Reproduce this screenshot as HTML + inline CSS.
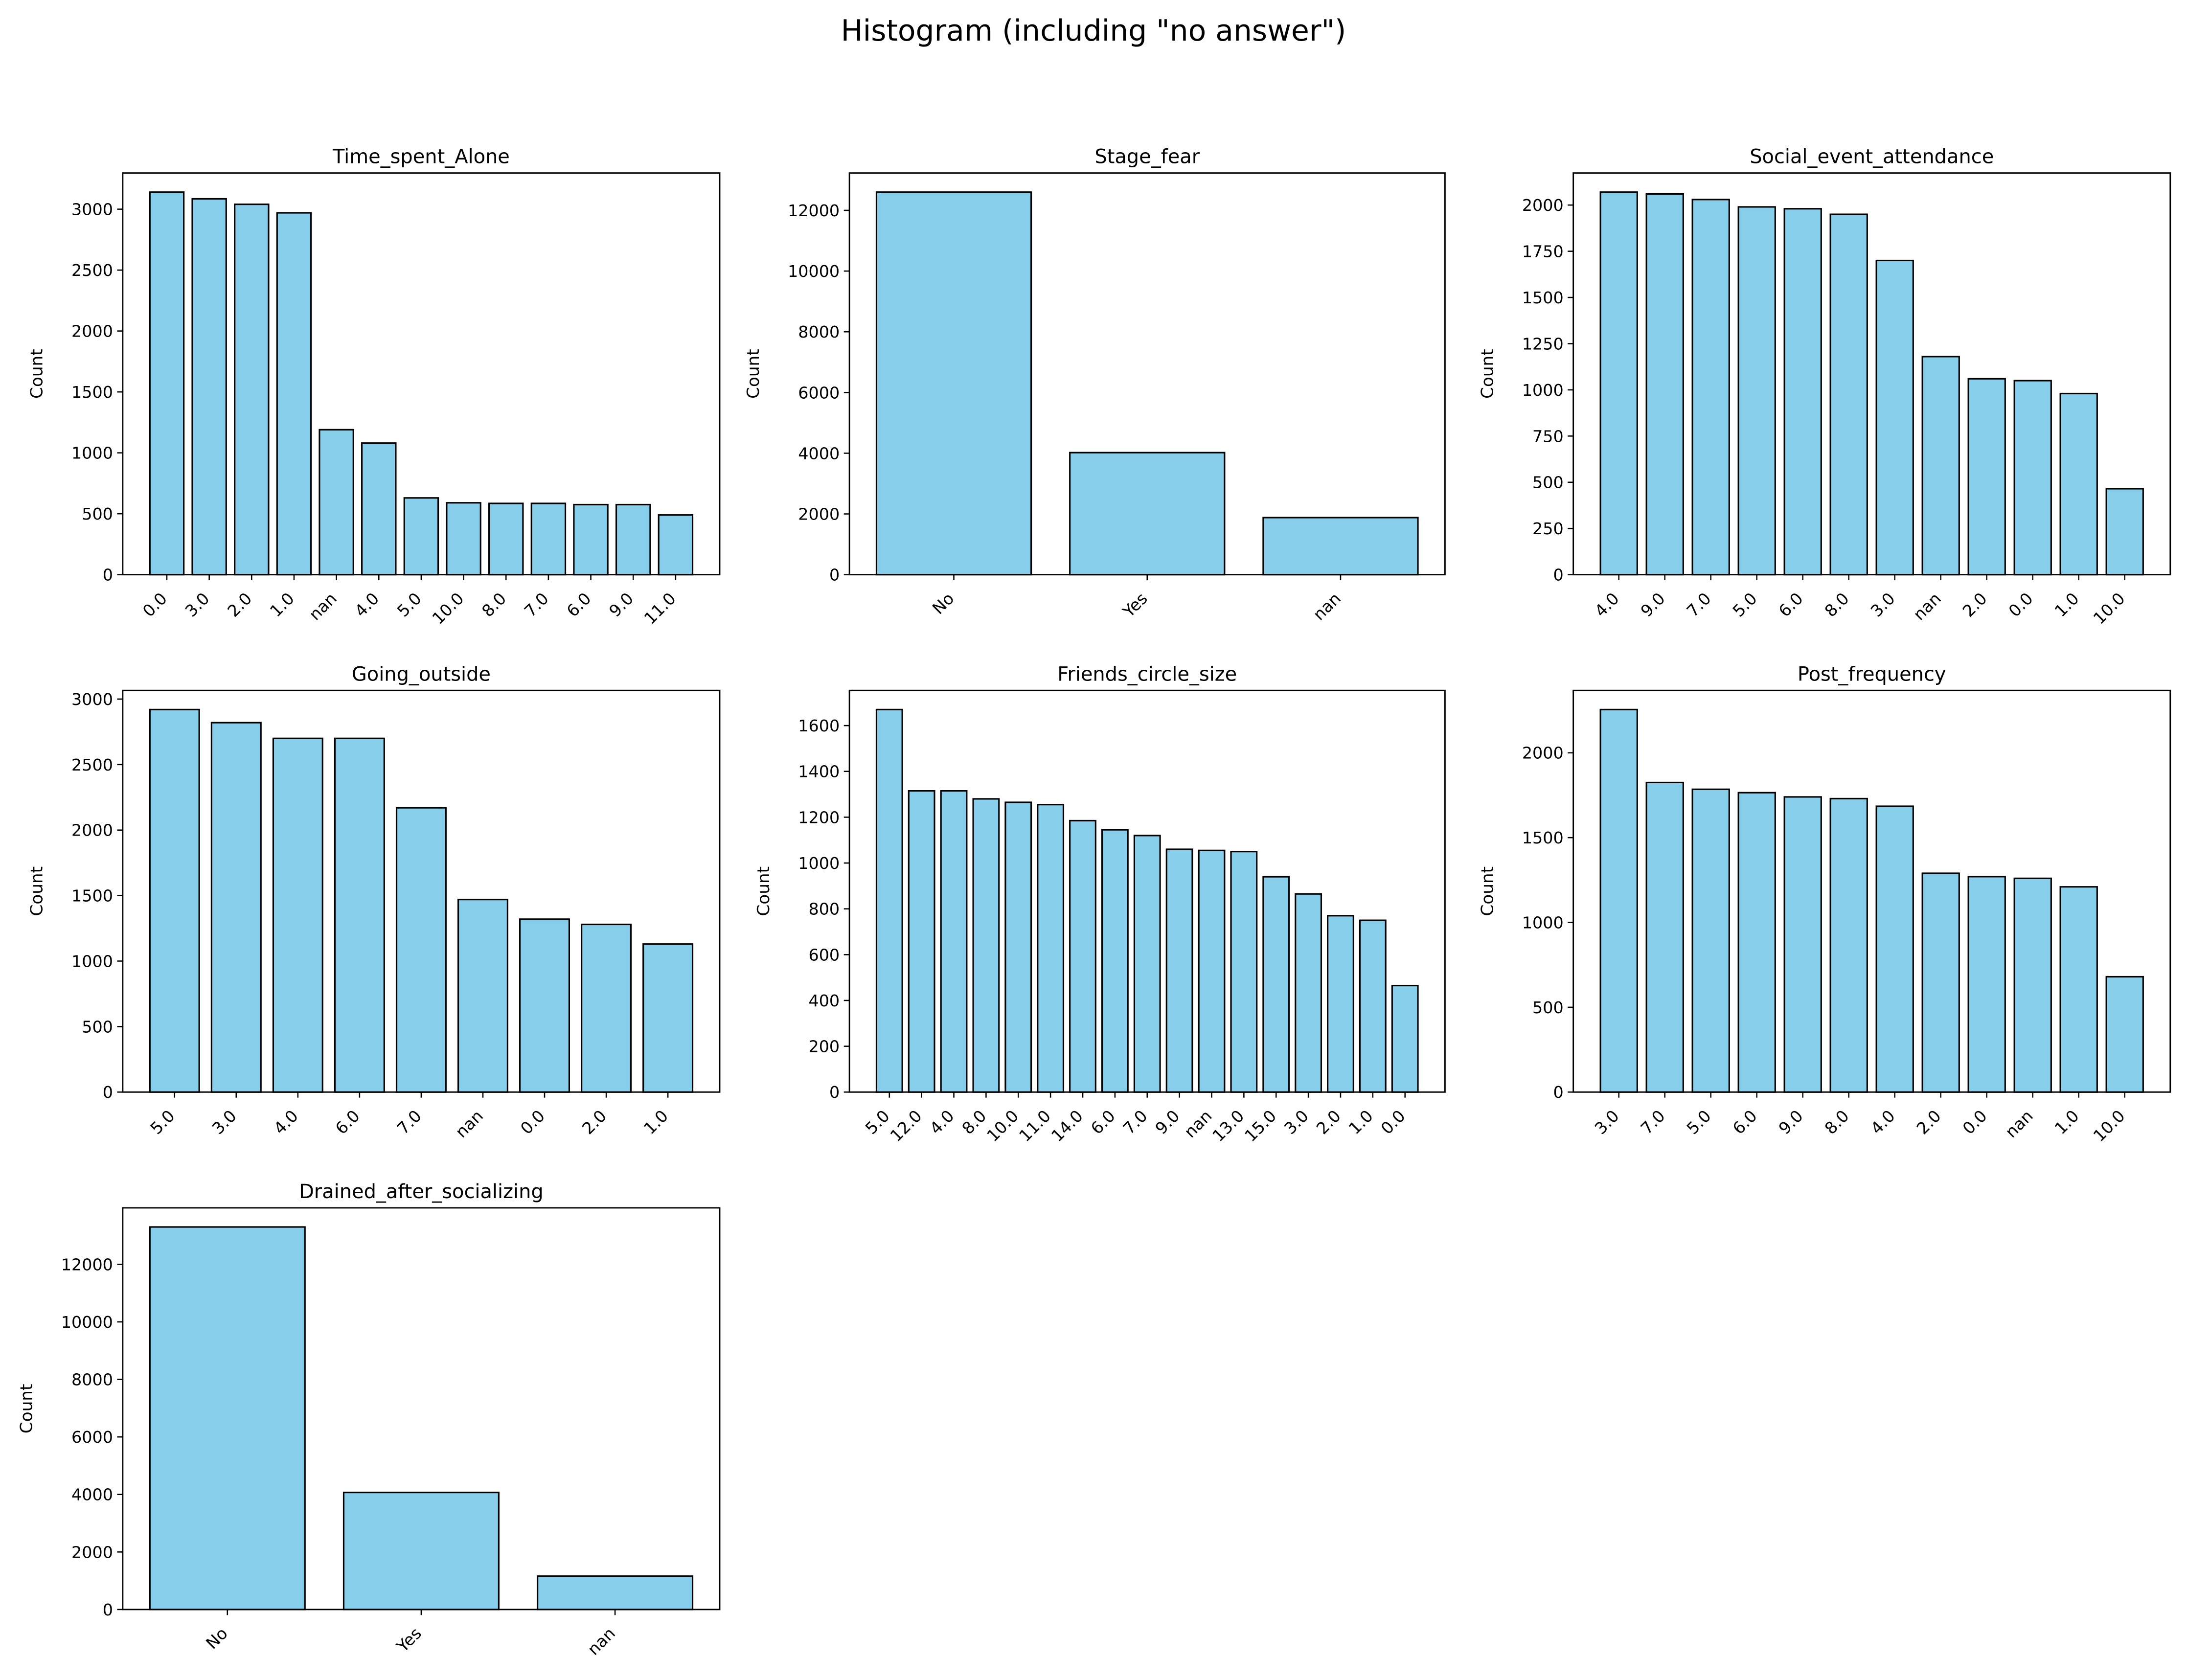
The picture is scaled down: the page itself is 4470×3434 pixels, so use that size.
<!DOCTYPE html>
<html><head><meta charset="utf-8"><style>
html,body{margin:0;padding:0;background:#fff;}
svg{display:block;font-family:"DejaVu Sans","Liberation Sans",sans-serif;}
</style></head><body>
<svg id="fig" width="4470" height="3434" viewBox="0 0 1568 1204.5" xmlns="http://www.w3.org/2000/svg">
<rect width="1568" height="1204.5" fill="#fff"/>
<text x="784" y="29" text-anchor="middle" font-size="21">Histogram (including "no answer")</text>
</svg>
<script>
const titles = ["Time_spent_Alone","Stage_fear","Social_event_attendance","Going_outside","Friends_circle_size","Post_frequency","Drained_after_socializing"];
const cats0 = ["0.0","3.0","2.0","1.0","nan","4.0","5.0","10.0","8.0","7.0","6.0","9.0","11.0"];
const vals0 = [3140,3085,3040,2970,1190,1080,630,590,585,585,575,575,490];
const cats1 = ["No","Yes","nan"];
const vals1 = [12600,4020,1880];
const cats2 = ["4.0","9.0","7.0","5.0","6.0","8.0","3.0","nan","2.0","0.0","1.0","10.0"];
const vals2 = [2070,2060,2030,1990,1980,1950,1700,1180,1060,1050,980,465];
const cats3 = ["5.0","3.0","4.0","6.0","7.0","nan","0.0","2.0","1.0"];
const vals3 = [2920,2820,2700,2700,2170,1470,1320,1280,1130];
const cats4 = ["5.0","12.0","4.0","8.0","10.0","11.0","14.0","6.0","7.0","9.0","nan","13.0","15.0","3.0","2.0","1.0","0.0"];
const vals4 = [1670,1315,1315,1280,1265,1255,1185,1145,1120,1060,1055,1050,940,865,770,750,465];
const cats5 = ["3.0","7.0","5.0","6.0","9.0","8.0","4.0","2.0","0.0","nan","1.0","10.0"];
const vals5 = [2255,1825,1785,1765,1740,1730,1685,1290,1270,1260,1210,680];
const cats6 = ["No","Yes","nan"];
const vals6 = [13300,4070,1160];
const ticks0 = [0,500,1000,1500,2000,2500,3000];
const ticks1 = [0,2000,4000,6000,8000,10000,12000];
const ticks2 = [0,250,500,750,1000,1250,1500,1750,2000];
const ticks3 = [0,500,1000,1500,2000,2500,3000];
const ticks4 = [0,200,400,600,800,1000,1200,1400,1600];
const ticks5 = [0,500,1000,1500,2000];
const ticks6 = [0,2000,4000,6000,8000,10000,12000];

const allCats=[cats0,cats1,cats2,cats3,cats4,cats5,cats6];
const allVals=[vals0,vals1,vals2,vals3,vals4,vals5,vals6];
const allTicks=[ticks0,ticks1,ticks2,ticks3,ticks4,ticks5,ticks6];
const colX=[[88,516],[609,1036],[1128,1556]];
const rowY=[[124,412],[495,783],[866,1154]];
const NS="http://www.w3.org/2000/svg";
const svg=document.getElementById('fig');
function mk(tag,attrs,parent){const e=document.createElementNS(NS,tag);for(const k in attrs)e.setAttribute(k,attrs[k]);parent.appendChild(e);return e;}
for(let p=0;p<7;p++){
  const cats=allCats[p],vals=allVals[p],ticks=allTicks[p];
  const [x0,x1]=colX[p%3],[y0,y1]=rowY[Math.floor(p/3)];
  const g=mk('g',{},svg);
  
  
  const n=cats.length;
  const dmin=-0.4,dmax=n-1+0.4,span=dmax-dmin;
  const xl=dmin-0.05*span,xr=dmax+0.05*span;
  const xs=v=>x0+(v-xl)/(xr-xl)*(x1-x0);
  const ymax=Math.max(...vals)*1.05;
  const ys=v=>y1-v/ymax*(y1-y0);
  for(let i=0;i<n;i++){
    const r=mk('rect',{x:xs(i-0.4),y:ys(vals[i]),width:xs(i+0.4)-xs(i-0.4),height:y1-ys(vals[i]),fill:'#87CEEB',stroke:'#000','stroke-width':1.1},g);
    
    
    mk('line',{x1:xs(i),x2:xs(i),y1:y1,y2:y1+4,stroke:'#000','stroke-width':0.9},g);
    const tx=xs(i)-2,ty=y1+15;
    const t=mk('text',{x:tx,y:ty,'text-anchor':'end','font-size':11.7,transform:`rotate(-45 ${tx} ${ty})`,'dominant-baseline':'central'},g);
    t.textContent=cats[i];
    
    
  }
  let maxlen=0;
  for(const tv of ticks){
    const y=ys(tv);
    mk('line',{x1:x0-4,x2:x0,y1:y,y2:y,stroke:'#000','stroke-width':0.9},g);
    const t=mk('text',{x:x0-7,y:y+4.2,'text-anchor':'end','font-size':11.7},g);
    t.textContent=String(tv);
    
    
    maxlen=Math.max(maxlen,String(tv).length);
  }
  const fr=mk('rect',{x:x0,y:y0,width:x1-x0,height:y1-y0,fill:'none',stroke:'#000','stroke-width':1},g);
  
  
  const lx=x0-(33+7.4*maxlen)+5,ly=(y0+y1)/2;
  const yl=mk('text',{x:lx,y:ly,'text-anchor':'middle','font-size':12,transform:`rotate(-90 ${lx} ${ly})`},g);
  yl.textContent='Count';
  
  
  const tt=mk('text',{x:(x0+x1)/2,y:y0-7,'text-anchor':'middle','font-size':14},g);
  tt.textContent=titles[p];
  
  
}
</script>
</body></html>
